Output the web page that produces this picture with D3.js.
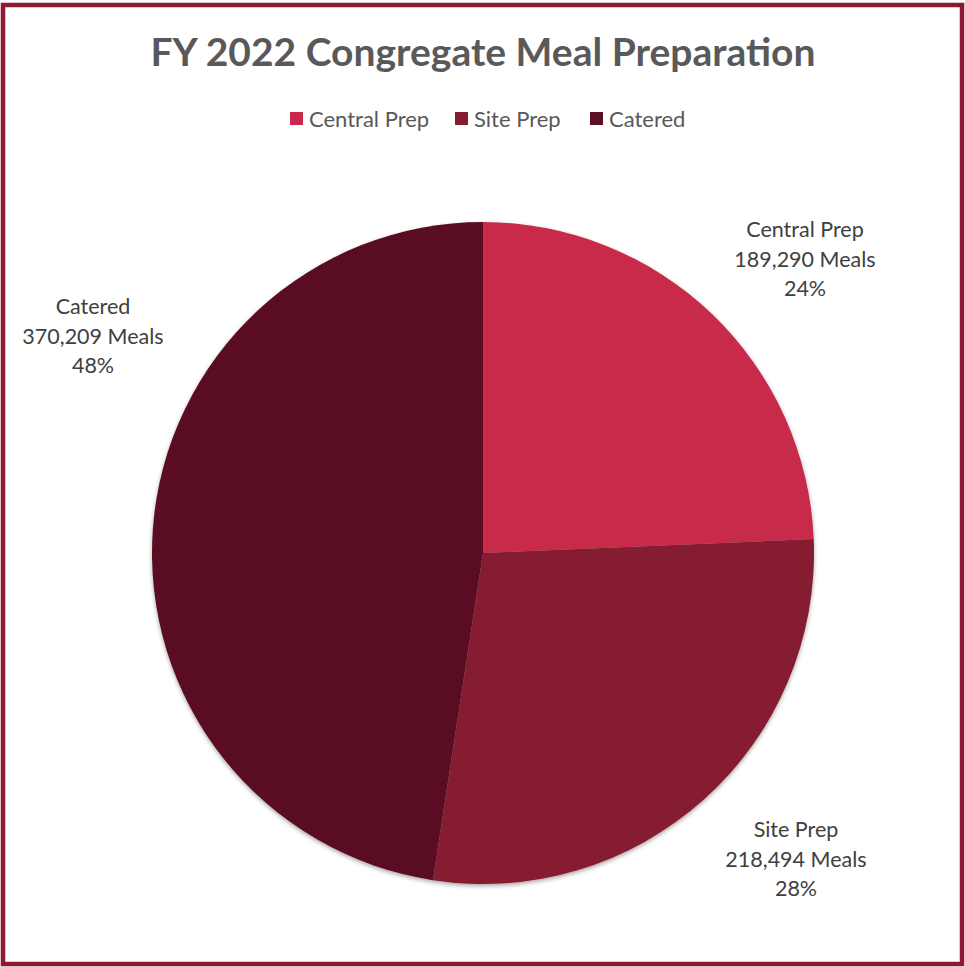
<!DOCTYPE html>
<html lang="en">
<head>
<meta charset="UTF-8">
<title>FY 2022 Congregate Meal Preparation</title>
<script src="https://cdn.jsdelivr.net/npm/d3@7"></script>
<style>
    body { margin: 0; background: #fff; }
    svg text { font-family: Lato, "Open Sans", sans-serif; }
</style>
</head>
<body>
<div id="chart"></div>
<script>
    // chart data
    var categories = ["Central Prep", "Site Prep", "Catered"];
    var meals = [189290, 218494, 370209];
    var percentLabels = ["24%", "28%", "48%"];
    var colors = ["#C8294A", "#861C30", "#5A1020"];

    var width = 965, height = 967;
    var cx = 483, cy = 553, radius = 331;

    var svg = d3.select("#chart").append("svg")
        .attr("width", width)
        .attr("height", height);

    // outer frame
    svg.append("rect")
        .attr("x", 3).attr("y", 5)
        .attr("width", 959).attr("height", 959)
        .attr("fill", "#fff")
        .attr("stroke", "#8B1A30")
        .attr("stroke-width", 4.5);

    // title
    svg.append("text")
        .attr("x", cx).attr("y", 66)
        .attr("text-anchor", "middle")
        .attr("font-size", 39)
        .attr("font-weight", "bold")
        .attr("fill", "#595959")
        .text("FY 2022 Congregate Meal Preparation");

    // legend
    var legendX = [290, 455, 590];
    var legend = svg.append("g");
    categories.forEach(function(c, i) {
        var g = legend.append("g").attr("transform", "translate(" + legendX[i] + ",119)");
        g.append("rect").attr("x", 0).attr("y", -7).attr("width", 13).attr("height", 13).attr("fill", colors[i]);
        g.append("text").attr("x", 19).attr("y", 8).attr("font-size", 22).attr("fill", "#595959").text(c);
    });

    var data = categories.map(function(c, i) { return {name: c, value: meals[i], pct: percentLabels[i], color: colors[i]}; });

    var pie = d3.pie().sort(null).value(function(d) { return d.value; });
    var arc = d3.arc().innerRadius(0).outerRadius(radius);

    var defs = svg.append("defs");
    var f = defs.append("filter").attr("id", "shadow").attr("x", "-10%").attr("y", "-10%").attr("width", "120%").attr("height", "120%");
    f.append("feDropShadow").attr("dx", 0).attr("dy", 2).attr("stdDeviation", 2).attr("flood-color", "#000").attr("flood-opacity", 0.35);

    var pieG = svg.append("g")
        .attr("transform", "translate(" + cx + "," + cy + ")")
        .attr("filter", "url(#shadow)");

    pieG.selectAll("path")
        .data(pie(data))
        .enter().append("path")
        .attr("d", arc)
        .attr("fill", function(d) { return d.data.color; });

    // data labels (outside end)
    var labelPos = [[805, 237], [796, 837], [93, 314]];
    var fmt = d3.format(",");
    data.forEach(function(d, i) {
        var t = svg.append("text")
            .attr("x", labelPos[i][0]).attr("y", labelPos[i][1])
            .attr("text-anchor", "middle")
            .attr("font-size", 21.5)
            .attr("fill", "#404040");
        [d.name, fmt(d.value) + " Meals", d.pct].forEach(function(line, j) {
            t.append("tspan").attr("x", labelPos[i][0]).attr("dy", j === 0 ? 0 : 29.5).text(line);
        });
    });
</script>
</body>
</html>
